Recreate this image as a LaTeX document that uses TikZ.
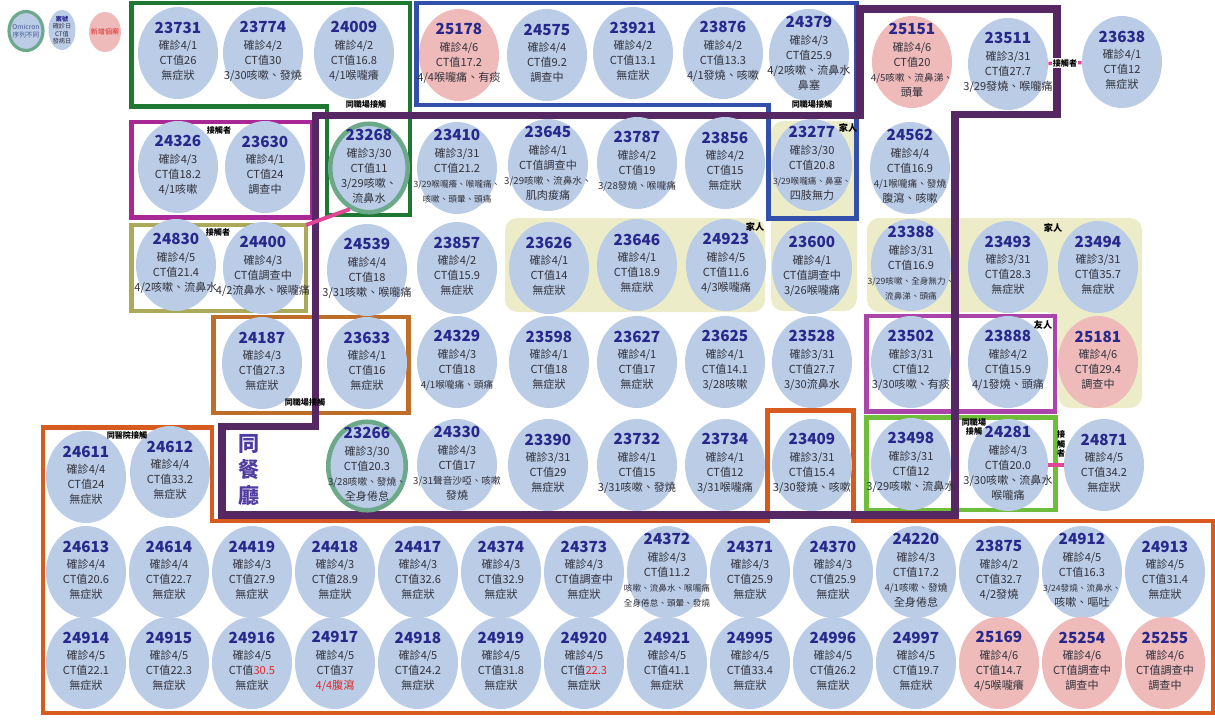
\documentclass[tikz,border=0pt]{standalone}
\usepackage{fontspec}
\setmainfont{Noto Sans CJK TC}
\usetikzlibrary{shapes.geometric}

\definecolor{ballblue}{RGB}{186,204,230}
\definecolor{ballpink}{RGB}{238,186,186}
\definecolor{ringgreen}{RGB}{108,168,138}
\definecolor{numblue}{RGB}{40,40,140}
\definecolor{infogray}{RGB}{50,50,60}
\definecolor{alertred}{RGB}{225,40,40}
\definecolor{legendblue}{RGB}{70,90,150}
\definecolor{workgreen}{RGB}{30,120,50}
\definecolor{workblue}{RGB}{50,80,170}
\definecolor{diningpurple}{RGB}{85,40,100}
\definecolor{diningblue}{RGB}{80,60,160}
\definecolor{contactmagenta}{RGB}{170,40,150}
\definecolor{contactolive}{RGB}{170,170,90}
\definecolor{workbrown}{RGB}{190,110,40}
\definecolor{hospitalorange}{RGB}{215,90,30}
\definecolor{friendviolet}{RGB}{170,70,170}
\definecolor{worklime}{RGB}{110,190,60}
\definecolor{shadeyellow}{RGB}{236,236,200}
\definecolor{contactpink}{RGB}{225,70,150}

\tikzset{
    ball/.style={ellipse, fill=ballblue, minimum width=1.6cm, minimum height=1.84cm, inner sep=0pt},
    omicron/.style={draw=ringgreen, line width=2.6pt, minimum width=1.55cm, minimum height=1.77cm},
    info/.style={align=center, inner sep=0pt, text=infogray, font=\fontsize{6.3}{8.6}\selectfont},
    tag/.style={font=\bfseries\fontsize{4.6}{5.4}\selectfont, inner sep=0.5pt, align=center},
    famtag/.style={tag, font=\bfseries\fontsize{5.2}{6}\selectfont},
    contact/.style={draw=contactpink, line width=1.8pt},
    groupbox/.style={line width=2.3pt},
    shade/.style={fill=shadeyellow, rounded corners=7pt},
}

\newcommand{\numfont}{\color{numblue}\bfseries\fontsize{8.7}{9}\selectfont}
\newcommand{\midtext}{\fontsize{5.5}{7}\selectfont}
\newcommand{\smalltext}{\fontsize{4.9}{6.5}\selectfont}
\newcommand{\covidcase}[5][]{%
    \node[ball,#1] (c#4) at (#2,#3) {};
    \node[info] (t#4) at ([yshift=1pt]c#4.center) {{\numfont #4}\\[0.8pt]#5};}

\begin{document}
\begin{tikzpicture}[x=0.02cm, y=-0.02cm]
    \useasboundingbox (0,0) rectangle (1215,720);

    % shaded family groups
    \fill[shade] (505,218) rectangle (765,312);
    \fill[shade] (771,121) rectangle (857,311);
    \fill[shade] (867,218) -- (1142,218) -- (1142,408) -- (1058,408) -- (1058,312) -- (867,312) -- cycle;

    % group boxes
    \draw[groupbox, workgreen] (131.5,3) -- (410,3) -- (410,215) -- (327,215) -- (327,106.5) -- (131.5,106.5) -- cycle;
    \draw[groupbox, workblue] (416.5,3) -- (856.5,3) -- (856.5,218.5) -- (768.5,218.5) -- (768.5,105) -- (416.5,105) -- cycle;
    \draw[groupbox, contactmagenta] (131.5,122) rectangle (312,217.5);
    \draw[groupbox, contactolive] (131.5,225) rectangle (306,311);
    \draw[groupbox, workbrown] (213.5,317) rectangle (408.5,413);
    \draw[groupbox, friendviolet] (866.5,316) rectangle (1055,411.5);
    \draw[groupbox, worklime] (866.5,417.5) rectangle (1055.5,510);
    \draw[groupbox, hospitalorange, line width=2.5pt] (43,427.5) -- (212,427.5) -- (212,521) -- (767.5,521) -- (767.5,410.5)
        -- (853.5,410.5) -- (853.5,521) -- (1213,521) -- (1213,713) -- (43,713) -- cycle;
    \draw[diningpurple, line width=4pt] (315.5,115.5) -- (860,115.5) -- (860,9) -- (1057,9) -- (1057,114.5) -- (955,114.5)
        -- (955,515) -- (222,515) -- (222,426.5) -- (315.5,426.5) -- cycle;
    \node[font=\bfseries\fontsize{12}{14.7}\selectfont, text=diningblue, align=center] (dining) at (249,470) {同\\餐\\廳};

    % legend
    \node[ball, omicron, line width=1.8pt, minimum width=0.68cm, minimum height=0.78cm] (legomi) at (26,31) {};
    \node[info, font=\fontsize{3.8}{4.6}\selectfont, text=legendblue] (tlegomi) at (legomi.center) {Omicron\\序列不同};
    \node[ball, minimum width=0.54cm, minimum height=0.8cm] (legcase) at (62,30) {};
    \node[info, font=\fontsize{3.5}{4.2}\selectfont] (tlegcase) at (legcase.center) {{\color{numblue}\bfseries 案號}\\確診日\\CT值\\發病日};
    \node[ball, fill=ballpink, minimum width=0.64cm, minimum height=0.8cm] (legnew) at (105,32) {};
    \node[info, font=\fontsize{4}{5}\selectfont, text=alertred] (tlegnew) at (legnew.center) {新增個案};

    % row 1
    \covidcase{178}{53}{23731}{確診4/1\\CT值26\\無症狀}
    \covidcase{263}{53}{23774}{確診4/2\\CT值30\\3/30咳嗽、發燒}
    \covidcase{354}{53}{24009}{確診4/2\\CT值16.8\\4/1喉嚨癢}
    \covidcase[fill=ballpink]{459}{55}{25178}{確診4/6\\CT值17.2\\4/4喉嚨痛、有痰}
    \covidcase{547}{55}{24575}{確診4/4\\CT值9.2\\調查中}
    \covidcase{633}{53}{23921}{確診4/2\\CT值13.1\\無症狀}
    \covidcase{723}{53}{23876}{確診4/2\\CT值13.3\\4/1發燒、咳嗽}
    \covidcase{809}{55}{24379}{確診4/3\\CT值25.9\\4/2咳嗽、流鼻水\\鼻塞}
    \covidcase[fill=ballpink]{912}{62}{25151}{確診4/6\\CT值20\\{\midtext 4/5咳嗽、流鼻涕、}\\頭暈}
    \covidcase{1008}{64}{23511}{確診3/31\\CT值27.7\\3/29發燒、喉嚨痛}
    \covidcase{1122}{62}{23638}{確診4/1\\CT值12\\無症狀}

    % row 2
    \covidcase{178}{167}{24326}{確診4/3\\CT值18.2\\4/1咳嗽}
    \covidcase{265}{167}{23630}{確診4/1\\CT值24\\調查中}
    \covidcase[omicron]{369}{168}{23268}{確診3/30\\CT值11\\3/29咳嗽、\\流鼻水}
    \covidcase{457}{168}{23410}{確診3/31\\CT值21.2\\{\smalltext 3/29喉嚨癢、喉嚨痛、}\\{\smalltext 咳嗽、頭暈、頭痛}}
    \covidcase{548}{165}{23645}{確診4/1\\CT值調查中\\{\midtext 3/29咳嗽、流鼻水、}\\肌肉痠痛}
    \covidcase{637}{163}{23787}{確診4/2\\CT值19\\{\midtext 3/28發燒、喉嚨痛}}
    \covidcase{725}{163}{23856}{確診4/2\\CT值15\\無症狀}
    \covidcase{812}{165}{23277}{確診3/30\\CT值20.8\\{\smalltext 3/29喉嚨痛、鼻塞、}\\四肢無力}
    \covidcase{910}{168}{24562}{確診4/4\\CT值16.9\\{\midtext 4/1喉嚨痛、發燒}\\腹瀉、咳嗽}

    % row 3
    \covidcase{176}{265}{24830}{確診4/5\\CT值21.4\\4/2咳嗽、流鼻水}
    \covidcase{263}{268}{24400}{確診4/3\\CT值調查中\\4/2流鼻水、喉嚨痛}
    \covidcase{367}{270}{24539}{確診4/4\\CT值18\\3/31咳嗽、喉嚨痛}
    \covidcase{457}{268}{23857}{確診4/2\\CT值15.9\\無症狀}
    \covidcase{549}{268}{23626}{確診4/1\\CT值14\\無症狀}
    \covidcase{637}{265}{23646}{確診4/1\\CT值18.9\\無症狀}
    \covidcase{726}{265}{24923}{確診4/5\\CT值11.6\\4/3喉嚨痛}
    \covidcase{812}{268}{23600}{確診4/1\\CT值調查中\\3/26喉嚨痛}
    \covidcase{911}{265}{23388}{確診3/31\\CT值16.9\\{\smalltext 3/29咳嗽、全身無力、}\\{\smalltext 流鼻涕、頭痛}}
    \covidcase{1008}{267}{23493}{確診3/31\\CT值28.3\\無症狀}
    \covidcase{1098}{267}{23494}{確診3/31\\CT值35.7\\無症狀}

    % row 4
    \covidcase{262}{363}{24187}{確診4/3\\CT值27.3\\無症狀}
    \covidcase{367}{363}{23633}{確診4/1\\CT值16\\無症狀}
    \covidcase{457}{362}{24329}{確診4/3\\CT值18\\{\midtext 4/1喉嚨痛、頭痛}}
    \covidcase{549}{362}{23598}{確診4/1\\CT值18\\無症狀}
    \covidcase{637}{362}{23627}{確診4/1\\CT值17\\無症狀}
    \covidcase{725}{362}{23625}{確診4/1\\CT值14.1\\3/28咳嗽}
    \covidcase{812}{362}{23528}{確診3/31\\CT值27.7\\3/30流鼻水}
    \covidcase{911}{362}{23502}{確診3/31\\CT值12\\3/30咳嗽、有痰}
    \covidcase{1008}{362}{23888}{確診4/2\\CT值15.9\\4/1發燒、頭痛}
    \covidcase[fill=ballpink]{1098}{362}{25181}{確診4/6\\CT值29.4\\調查中}

    % row 5
    \covidcase{86}{477}{24611}{確診4/4\\CT值24\\無症狀}
    \covidcase{170}{472}{24612}{確診4/4\\CT值33.2\\無症狀}
    \covidcase[omicron]{367}{466}{23266}{確診3/30\\CT值20.3\\{\midtext 3/28咳嗽、發燒、}\\全身倦怠}
    \covidcase{457}{465}{24330}{確診4/3\\CT值17\\{\midtext 3/31聲音沙啞、咳嗽}\\發燒}
    \covidcase{548}{465}{23390}{確診3/31\\CT值29\\無症狀}
    \covidcase{637}{465}{23732}{確診4/1\\CT值15\\3/31咳嗽、發燒}
    \covidcase{725}{465}{23734}{確診4/1\\CT值12\\3/31喉嚨痛}
    \covidcase{812}{465}{23409}{確診3/31\\CT值15.4\\3/30發燒、咳嗽}
    \covidcase{911}{464}{23498}{確診3/31\\CT值12\\3/29咳嗽、流鼻水}
    \covidcase{1008}{465}{24281}{確診4/3\\CT值20.0\\3/30咳嗽、流鼻水\\喉嚨痛}
    \covidcase{1104}{465}{24871}{確診4/5\\CT值34.2\\無症狀}

    % row 6
    \foreach \num/\cx/\dt/\ct/\sym in {24613/86/{4/4}/20.6/無症狀, 24614/169/{4/4}/22.7/無症狀,
            24419/252/{4/3}/27.9/無症狀, 24418/335/{4/3}/28.9/無症狀, 24417/418/{4/3}/32.6/無症狀,
            24374/501/{4/3}/32.9/無症狀, 24373/584/{4/3}/調查中/無症狀,
            24372/667/{4/3}/11.2/{{\smalltext 咳嗽、流鼻水、喉嚨痛}\\{\smalltext 全身倦怠、頭暈、發燒}},
            24371/750/{4/3}/25.9/無症狀, 24370/833/{4/3}/25.9/無症狀,
            24220/916/{4/3}/17.2/{{\midtext 4/1咳嗽、發燒}\\全身倦怠}, 23875/999/{4/2}/32.7/{4/2發燒},
            24912/1082/{4/5}/16.3/{{\smalltext 3/24發燒、流鼻水、}\\咳嗽、嘔吐}, 24913/1165/{4/5}/31.4/無症狀} {
        \covidcase{\cx}{572}{\num}{確診\dt\\CT值\ct\\\sym}
    }

    % row 7
    \foreach \num/\cx/\col/\dt/\ct/\sym in {24914/86/ballblue/{4/5}/22.1/無症狀, 24915/169/ballblue/{4/5}/22.3/無症狀,
            24916/252/ballblue/{4/5}/{\textcolor{alertred}{30.5}}/無症狀,
            24917/335/ballblue/{4/5}/37/{\textcolor{alertred}{4/4腹瀉}},
            24918/418/ballblue/{4/5}/24.2/無症狀, 24919/501/ballblue/{4/5}/31.8/無症狀,
            24920/584/ballblue/{4/5}/{\textcolor{alertred}{22.3}}/無症狀, 24921/667/ballblue/{4/5}/41.1/無症狀,
            24995/750/ballblue/{4/5}/33.4/無症狀, 24996/833/ballblue/{4/5}/26.2/無症狀,
            24997/916/ballblue/{4/5}/19.7/無症狀, 25169/999/ballpink/{4/6}/14.7/{4/5喉嚨癢},
            25254/1082/ballpink/{4/6}/調查中/調查中, 25255/1165/ballpink/{4/6}/調查中/調查中} {
        \covidcase[fill=\col]{\cx}{663}{\num}{確診\dt\\CT值\ct\\\sym}
    }

    % contacts
    \coordinate (olivecorner) at (306,225);
    \draw[contact, line width=2.2pt] (olivecorner) -- (c23268.245);
    \draw[contact] (c23511) -- node[tag, fill=white] (tagpair1) {接觸者} (c23638);
    \draw[contact] (c24281) -- node[tag, above=2.8pt, xshift=3pt] (tagpair2) {接\\觸\\者} (c24871);

    % group labels
    \node[tag] (tagwork1) at (366,104) {同職場接觸};
    \node[tag] (tagwork2) at (812,104) {同職場接觸};
    \node[tag] (tagwork3) at (974,427) {同職場\\接觸};
    \node[tag] (tagwork4) at (305,402) {同職場接觸};
    \node[tag] (taghosp) at (127,435) {同醫院接觸};
    \node[tag] (tagcontact1) at (219,130) {接觸者};
    \node[tag] (tagcontact2) at (218,232) {接觸者};
    \node[famtag] (tagfam1) at (848,128) {家人};
    \node[famtag] (tagfam2) at (755,227) {家人};
    \node[famtag] (tagfam3) at (1053,228) {家人};
    \node[famtag] (tagfriend) at (1043,325) {友人};
\end{tikzpicture}
\end{document}
